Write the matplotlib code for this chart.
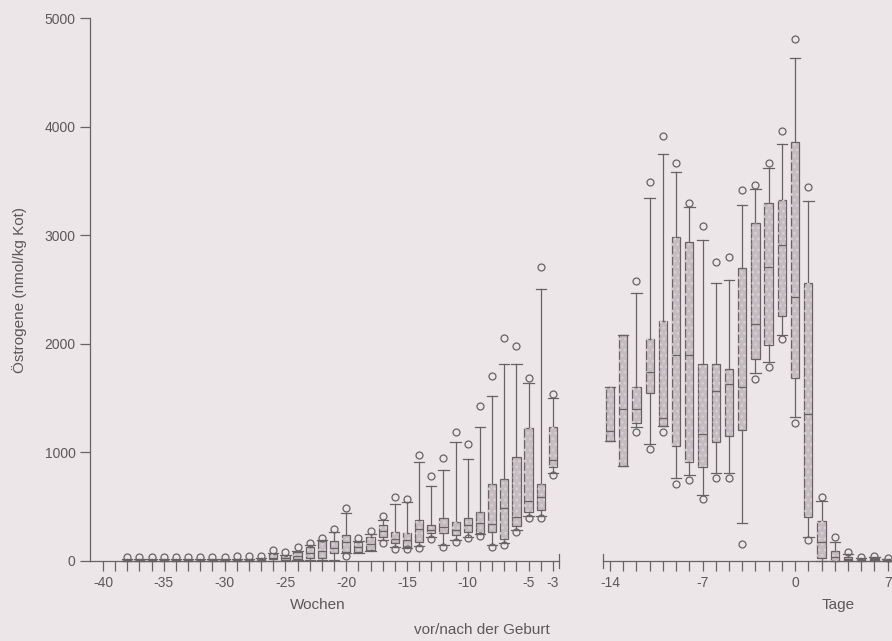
import matplotlib
matplotlib.use("Agg")
import matplotlib.pyplot as plt
from matplotlib.patches import PathPatch

plt.rcParams['font.family'] = ['Liberation Sans', 'DejaVu Sans']
plt.rcParams['axes.unicode_minus'] = False
plt.rcParams['hatch.linewidth'] = 1.2

# Wochen vor der Geburt
weeks = list(range(-38, -2))
wk_whislo = [0, 0, 0, 0, 0, 0, 0, 0, 0, 0, 0, 0,
             0, 0, 5, 5, 5, 10, 75, 70, 90, 190, 125, 120,
             140, 220, 150, 190, 225, 245, 150, 165, 285, 410, 410, 810]
wk_q1 = [0, 0, 0, 0, 0, 0, 0, 0, 0, 0, 0, 2,
         15, 10, 20, 25, 25, 70, 85, 85, 100, 224, 163, 132,
         178, 255, 255, 240, 270, 255, 270, 200, 322, 454, 470, 868]
wk_med = [5, 5, 5, 5, 5, 5, 5, 5, 5, 5, 5, 8,
          30, 25, 45, 70, 90, 120, 178, 130, 160, 275, 200, 190,
          295, 290, 316, 290, 334, 350, 343, 485, 408, 555, 592, 930]
wk_q3 = [10, 10, 10, 10, 10, 10, 10, 10, 10, 12, 12, 15,
         60, 45, 80, 130, 180, 180, 240, 178, 224, 330, 270, 261,
         378, 331, 393, 356, 399, 454, 706, 758, 955, 1222, 706, 1236]
wk_whishi = [15, 15, 15, 15, 15, 15, 15, 15, 15, 20, 20, 25,
             75, 55, 95, 145, 195, 265, 445, 185, 250, 375, 525, 540,
             915, 690, 838, 1099, 939, 1231, 1522, 1811, 1811, 1636, 2505, 1498]
wk_fliers = [[35], [35], [35], [35], [35], [35], [35], [35], [35], [45], [50], [50],
             [100], [80], [125], [170], [215], [295], [485, 45], [210], [280], [417, 170], [586, 110], [575, 110],
             [976, 123], [783, 200], [945, 132], [1190, 172], [1074, 209], [1427, 233], [1703, 132], [2056, 147],
             [1980, 264], [1688, 393], [2710, 393], [1538, 792]]

# Tage vor/nach der Geburt
days = list(range(-14, 8))
d_whislo = [1108, 875, 1230, 1077, 1240, 760, 790, 610, 813, 813, 347,
            1728, 1835, 2080, 1329, 224, 0, 0, 0, 0, 0, 0]
d_q1 = [1108, 875, 1268, 1550, 1240, 1062, 914, 868, 1093, 1154, 1206,
        1860, 1989, 2256, 1682, 408, 25, 0, 5, 0, 5, 0]
d_med = [1200, 1397, 1397, 1738, 1314, 1897, 1897, 1166, 1568, 1630, 1600,
         2182, 2704, 2910, 2434, 1351, 178, 40, 20, 10, 15, 5]
d_q3 = [1605, 2081, 1605, 2041, 2210, 2986, 2940, 1814, 1814, 1765, 2695,
        3115, 3299, 3324, 3861, 2563, 371, 92, 40, 20, 30, 15]
d_whishi = [1605, 2081, 2471, 3340, 3745, 3585, 3263, 2956, 2563, 2587, 3278,
            3422, 3616, 3840, 4635, 3315, 552, 178, 60, 25, 35, 20]
d_fliers = [[], [], [2578, 1185], [3493, 1028], [3916, 1190], [3662, 710], [3300, 746], [3085, 571],
            [2756, 761], [2796, 761], [3416, 157], [3462, 1673], [3668, 1789], [3959, 2041],
            [4804, 1274], [3441, 193], [592], [224], [86], [40], [50], [30]]

wk_ticks = [-40, -35, -30, -25, -20, -15, -10, -5, -3]
day_ticks = [-14, -7, 0, 7]

bg = '#ece6e8'
line_c = '#676264'
text_c = '#5c585a'
box_fill = '#c4bcc0'
speckle = '#d6cfd2'


def make_stats(lo, q1, med, q3, hi, fl):
    return [dict(whislo=a, q1=b, med=c, q3=d, whishi=e, fliers=f)
            for a, b, c, d, e, f in zip(lo, q1, med, q3, hi, fl)]


def draw_boxes(ax, stats, pos, width):
    res = ax.bxp(stats, positions=pos, widths=width, capwidths=width * 1.25,
                 patch_artist=True, manage_ticks=False,
                 boxprops=dict(facecolor=box_fill, edgecolor=line_c, linewidth=0.9),
                 medianprops=dict(color=line_c, linewidth=0.9),
                 whiskerprops=dict(color=line_c, linewidth=0.9),
                 capprops=dict(color=line_c, linewidth=0.9),
                 flierprops=dict(marker='o', markerfacecolor='none', markeredgecolor=line_c,
                                 markersize=5, markeredgewidth=0.9))
    for group in res.values():
        for art in group:
            art.set_clip_on(False)
    # stippled texture inside the boxes
    for b in res['boxes']:
        tex = PathPatch(b.get_path(), facecolor='none', edgecolor=speckle, hatch='...',
                        linewidth=0, zorder=b.get_zorder() + 0.01)
        ax.add_patch(tex)
    for m in res['medians']:
        m.set_zorder(m.get_zorder() + 0.1)


def style_axis(ax):
    ax.set_facecolor(bg)
    for s in ['top', 'right']:
        ax.spines[s].set_visible(False)
    for s in ax.spines.values():
        s.set_color(line_c)
        s.set_linewidth(0.9)
    ax.tick_params(axis='both', which='both', direction='out', length=7, width=0.9,
                   color=line_c, labelcolor=text_c, labelsize=10)
    ax.set_ylim(0, 5000)


fig = plt.figure(figsize=(8.92, 6.41), dpi=100, facecolor=bg)
W, H = 892, 641

ax1 = fig.add_axes([90 / W, 80 / H, (559 - 90) / W, (561 - 18) / H])
style_axis(ax1)
draw_boxes(ax1, make_stats(wk_whislo, wk_q1, wk_med, wk_q3, wk_whishi, wk_fliers), weeks, 0.68)
ax1.set_xlim(-41.07, -2.5)
ax1.set_xticks(wk_ticks)
ax1.set_xticks(range(-40, -2), minor=True)
ax1.set_yticks([0, 1000, 2000, 3000, 4000, 5000])
ax1.plot([1, 1], [-0.013, 0.013], transform=ax1.transAxes, color=line_c, lw=0.9, clip_on=False)

ax2 = fig.add_axes([603 / W, 80 / H, (892 - 603) / W, (561 - 18) / H])
style_axis(ax2)
ax2.spines['left'].set_visible(False)
ax2.tick_params(axis='y', left=False, labelleft=False)
draw_boxes(ax2, make_stats(d_whislo, d_q1, d_med, d_q3, d_whishi, d_fliers), days, 0.63)
ax2.set_xlim(-14.53, 7.33)
ax2.set_xticks(day_ticks)
ax2.set_xticks(range(-14, 8), minor=True)
ax2.plot([0, 0], [-0.013, 0.013], transform=ax2.transAxes, color=line_c, lw=0.9, clip_on=False)

fig.text(20 / W, 1 - 290 / H, 'Östrogene (nmol/kg Kot)', rotation=90, ha='center', va='center',
         color=text_c, fontsize=11)
fig.text(318 / W, 1 - 605 / H, 'Wochen', ha='center', va='center', color=text_c, fontsize=11)
fig.text(838 / W, 1 - 605 / H, 'Tage', ha='center', va='center', color=text_c, fontsize=11)
fig.text(482 / W, 1 - 630 / H, 'vor/nach der Geburt', ha='center', va='center', color=text_c, fontsize=11)

fig.savefig('out.png', dpi=100, facecolor=bg)
